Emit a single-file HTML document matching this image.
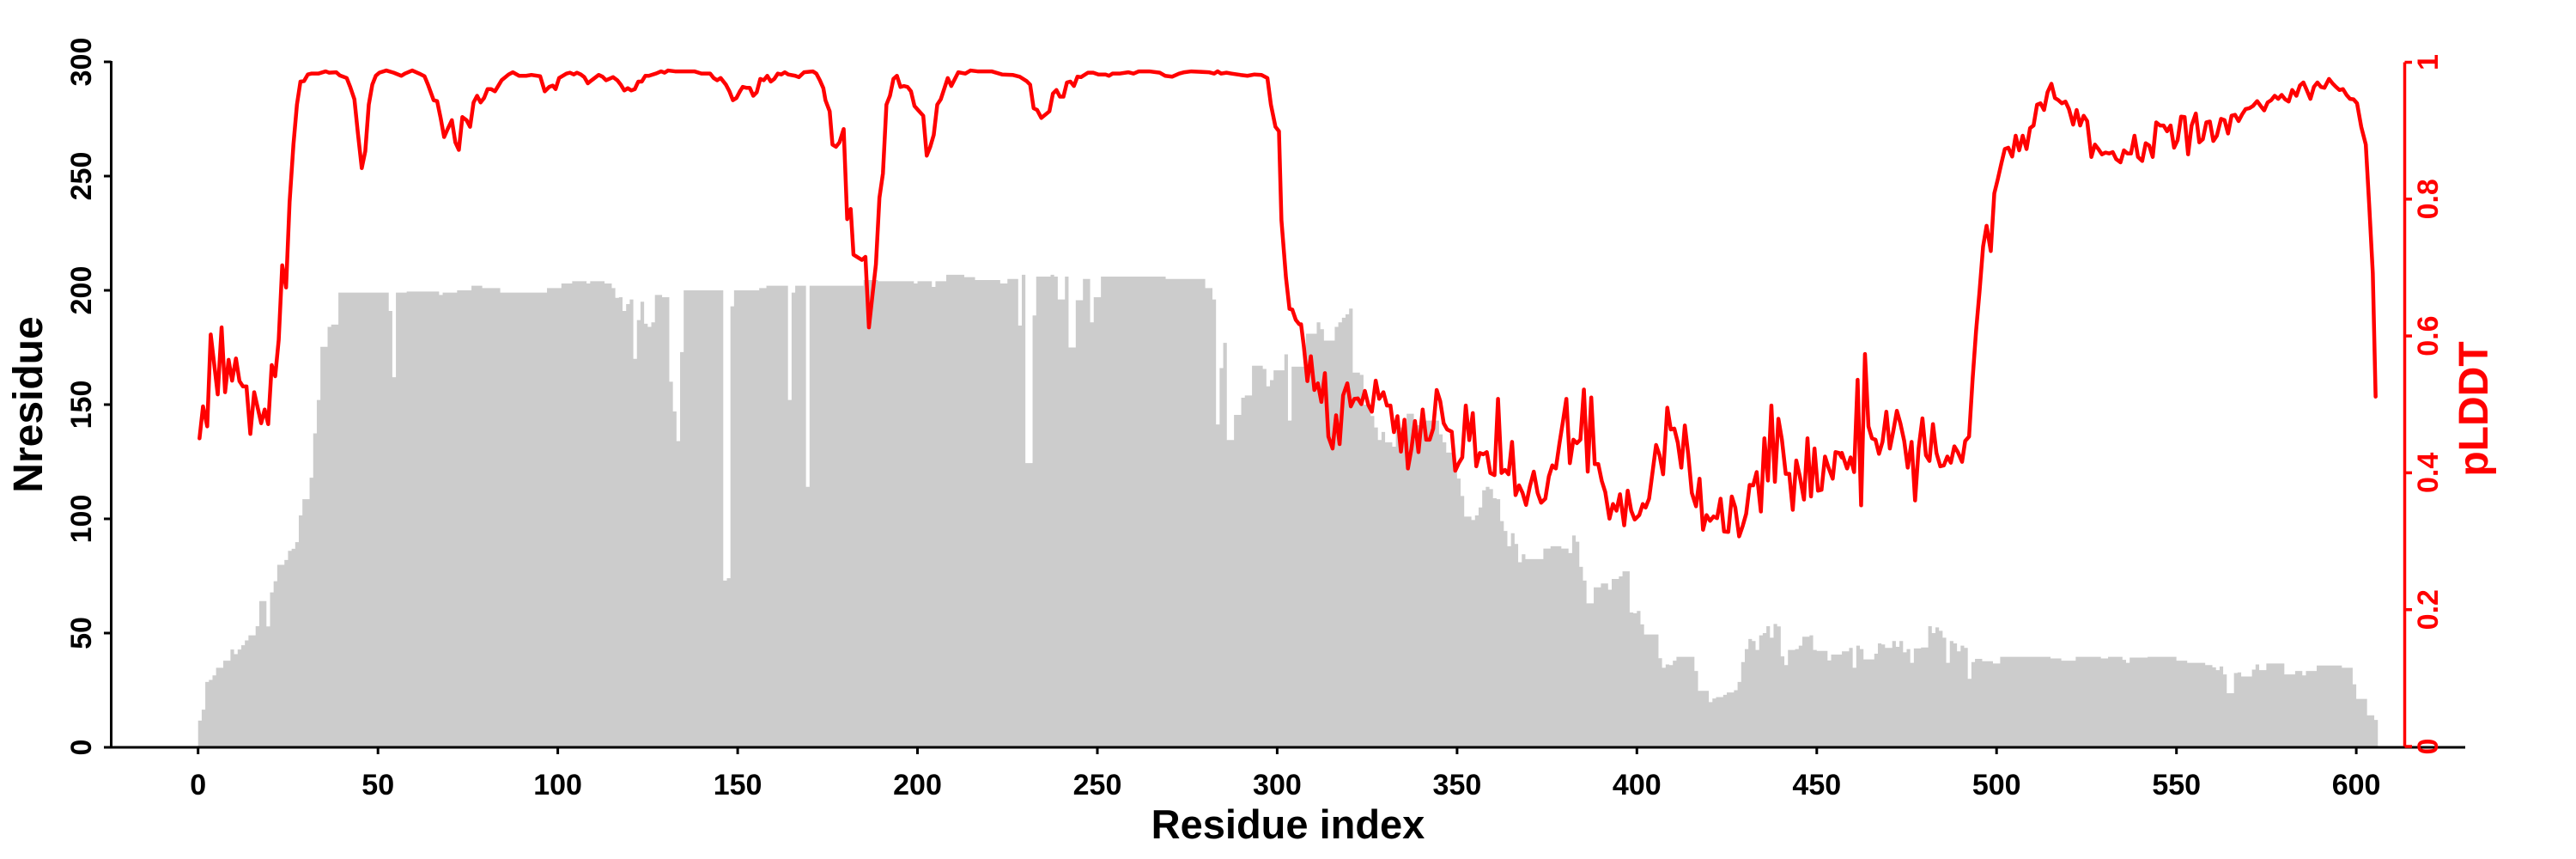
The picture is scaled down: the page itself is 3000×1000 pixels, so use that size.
<!DOCTYPE html>
<html>
<head>
<meta charset="utf-8">
<style>
html,body{margin:0;padding:0;background:#fff;}
body{width:3000px;height:1000px;overflow:hidden;}
svg{display:block;}
text{font-family:"Liberation Sans",Arial,Helvetica,sans-serif;font-weight:bold;}
</style>
</head>
<body>
<svg width="3000" height="1000" viewBox="0 0 3000 1000" xmlns="http://www.w3.org/2000/svg">
<rect x="0" y="0" width="3000" height="1000" fill="#ffffff"/>

<!-- Bars (residue / value coordinates) -->
<g transform="translate(230.7,870) scale(4.189,-2.66)">
<path fill="#cccccc" stroke="none" d="M0 0V11.7H1V16.5H2V28.6H3V29.5H4V31.5H5V34.8H7V37.9H9V42.8H10V40.8H11V42.8H12V44.7H13V46.8H14V49H16V53H17V64H19V52.9H20V67.8H21V72.7H22V79.9H24V82H25V86H26V86.9H27V89.8H28V101.5H29V108.6H31V118H32V137.4H33V152H34V175.3H36V184H37V185H39V199H53V191H54V162H55V199H58V199.5H67V198H68V199H72V200H76V202H79V201H84V199H97V201H101V203H104V204H108V203H109V204H113V203H115V201H116V196.7H117V197H118V191H119V194H120V196H121V170H122V187H123V195H124V185.4H125V184H126V186H127V198H129V197H131V160H132V147H133V134H134V173H135V200H146V73H147V74H148V193H149V200H156V201H158V202H164V152H165V199H166V202H169V114H170V202H185V204.5H189V204H199V203H200V204H204V201.5H205V204H208V206.8H213V205.8H216V204.5H223V203H225V205H228V184.6H229V206.8H230V124.4H232V189H233V206H237V206.8H238V206H239V196H241V206H242V175H244V195.7H246V205H248V186H249V197H251V206H269V205H280V201H282V196H283V141.3H284V166H285V177H286V134.5H288V145.5H290V153H291V154H293V167H296V165.6H297V158H298V160.7H299V165H302V172H303V143H304V166.6H308V181H311V186H312V183H313V178H316V184H317V186H318V188H319V189.5H320V192H321V164H323V163H324V150H326V145H327V140H328V134.5H329V138H330V133.5H332V131.6H333V140H336V146H338V141H341V143H345V137H346V133.5H347V129H349V123H350V117.6H351V110H352V101H354V99.5H355V101.5H356V105H357V112.5H358V114H359V113H360V109H361V108.6H362V99H363V94.7H364V88H365V93.7H366V89H367V81H368V84.5H369V82.4H374V87H376V88H379V87H381V85H382V92.7H383V90H384V79H385V73H386V63H388V70H390V71.7H392V69H393V73.7H395V74.8H396V77H398V59H399V58.7H400V59.7H401V53.8H402V49.4H406V39H407V34.8H408V36.3H409V36H410V37.9H411V39.6H416V33.4H417V24.7H420V19.8H421V21.4H422V22H424V23H425V24H427V25H428V28.6H429V37.3H430V43H431V47.4H432V46.5H433V42.6H434V49H435V50H436V53H437V48H438V54H439V52.9H440V39.8H441V36H442V42.6H444V43H445V44.5H446V48.4H448V49H449V42.6H450V42.2H453V38H454V40.6H457V42H459V43.5H460V34.8H461V44.5H462V43H463V38.5H466V41H467V45.5H468V45H469V43.5H471V46.5H472V44H473V46.5H474V41.6H475V43H476V37H477V43.3H479V43.7H481V53H482V50H483V52.5H484V51H485V48H486V37H487V46.5H488V45.5H489V42H490V44.5H491V43.5H492V30H493V37.3H494V38.7H496V37.7H499V36.7H501V39.6H515V38.9H518V37.9H522V39.6H529V38.9H531V39.6H535V38.3H536V37H537V39.3H542V39.6H550V37.9H553V37H558V36H560V35H561V33.8H562V35.4H563V31.9H564V23.7H566V32.5H567V32.8H568V31H571V34H572V36.3H573V33.8H575V36.7H580V31.9H583V33.4H585V31.5H586V33.4H589V35.8H596V34.8H599V27.6H600V21.2H603V14H605V12H606V0Z"/>
</g>

<!-- pLDDT line -->
<g fill="none" stroke="#ff0000" stroke-width="4.5" stroke-linejoin="round" stroke-linecap="round">
<g transform="translate(225,65) scale(0.40816,0.51658)">
<polyline vector-effect="non-scaling-stroke" points="18,862 28,790 40,835 50,628 70,763 81,612 91,758 101,685 111,732 122,682 132,733 142,745 152,745 163,852 174,758 194,828 204,797 214,830 224,697 234,722 244,640 254,472 265,522 275,330 286,200 296,110 306,58 316,57 327,42 337,40 357,40 378,35 388,38 408,37 418,44 438,50 448,70 460,98 470,175 481,253 491,215 501,110 511,65 521,45 531,38 551,33 572,38 594,45 604,40 625,33 645,40 660,46 670,65 686,100 696,102 706,140 716,183 726,165 738,145 748,195 758,212 768,138 780,145 790,160 800,105 810,90 820,105 830,95 840,75 850,75 861,80 880,55 900,42 912,37 930,45 950,45 965,43 990,46 1003,80 1016,70 1026,67 1034,75 1044,50 1065,40 1075,38 1086,42 1095,38 1106,42 1116,48 1126,62 1137,55 1157,43 1168,47 1178,55 1198,48 1210,55 1220,65 1230,78 1240,73 1250,78 1260,75 1270,58 1280,58 1290,45 1300,45 1320,40 1335,35 1345,38 1355,33 1375,35 1400,35 1430,35 1450,40 1475,40 1485,50 1495,55 1505,50 1520,65 1530,80 1540,100 1550,95 1560,80"/>
</g>
<g transform="translate(865,65) scale(0.40816,0.51658)">
<polyline vector-effect="non-scaling-stroke" points="0,70 10,72 20,72 30,90 40,82 50,52 60,55 70,45 80,58 90,52 100,40 110,42 120,37 130,42 150,45 160,48 175,37 200,35 210,40 220,55 230,73 236,100 248,125 256,200 266,205 276,195 288,165 298,368 308,345 316,448 330,455 340,460 350,453 360,612 370,540 380,470 390,320 400,265 410,110 420,90 430,52 440,45 450,70 460,68 470,70 480,80 490,113 500,122 515,135 525,225 535,205 545,178 555,110 565,98 585,50 595,68 615,37 635,40 650,33 670,35 710,35 740,42 770,43 790,47 810,57 820,65 830,118 840,122 852,140 875,125 885,85 895,77 905,92 915,92 925,60 935,58 945,68 955,47 965,48 985,38 1000,38 1015,42 1035,42 1045,45 1055,40 1075,40 1100,37 1115,40 1130,35 1160,35 1190,38 1205,45 1225,47 1245,40 1260,37 1280,35 1330,37 1345,40 1355,35 1365,40 1380,38 1395,40 1420,43 1440,45 1460,42 1480,43 1497,50 1507,110 1520,160 1530,170 1537,370 1550,500 1560,570"/>
</g>
<g transform="translate(1505,65) scale(0.40816,0.51658)">
<polyline vector-effect="non-scaling-stroke" points="0,572 10,595 20,605 25,605 33,655 43,733 53,677 63,753 73,738 83,780 93,715 103,858 115,885 125,810 135,875 145,765 157,738 167,790 177,773 187,772 197,785 207,755 217,787 227,802 238,732 248,773 260,758 270,788 280,788 290,848 300,812 310,892 320,820 330,930 340,885 350,823 360,893 372,797 382,865 392,865 402,840 412,753 422,778 432,828 442,842 455,847 465,935 475,918 485,905 495,788 505,866 515,805 525,925 535,895 545,898 555,893 565,940 577,945 587,773 597,940 607,933 617,943 627,870 637,990 647,968 657,985 667,1012 678,970 689,937 700,985 710,1007 722,998 732,948 742,923 752,930 762,875 772,825 782,773 792,918 802,865 812,873 822,865 832,752 843,937 853,770 863,920 873,920 883,958 893,983 905,1043 915,1010 925,1025 935,988 947,1058 957,980 967,1025 977,1045 990,1035 1000,1010 1008,1018 1018,998 1038,877 1048,900 1058,943 1070,793 1080,842 1090,840 1100,872 1110,928 1120,833 1130,900 1140,985 1152,1015 1162,953 1172,1068 1182,1035 1192,1048 1202,1038 1212,1042 1222,998 1232,1072 1244,1073 1254,993 1264,1018 1275,1083 1285,1060 1295,1032 1305,967 1315,968 1325,938 1337,1027 1347,862 1357,957 1367,788 1377,960 1387,818 1397,865 1408,942 1418,942 1428,1023 1438,912 1448,947 1460,1000 1470,862 1480,993 1490,885 1500,980 1510,978 1520,903 1530,928 1542,953 1550,893 1560,895 1568,905"/>
</g>
<g transform="translate(2145,65) scale(0.40816,0.51658)">
<polyline vector-effect="non-scaling-stroke" points="0,895 15,930 25,905 35,938 45,730 55,1013 66,672 76,835 86,862 96,865 106,897 116,870 127,802 137,885 147,845 157,800 167,828 178,868 188,928 199,870 209,1002 219,885 230,817 240,900 250,913 260,830 270,895 281,925 291,923 301,903 311,917 321,880 331,893 343,915 352,868 363,858 373,730 383,620 393,530 403,430 413,383 425,440 435,310 445,278 455,243 465,210 475,207 486,227 496,180 506,213 516,180 527,210 537,163 547,157 557,110 567,107 577,122 587,82 598,63 608,95 618,100 628,107 638,103 648,120 660,155 670,122 680,157 690,135 700,147 712,228 722,200 732,210 742,222 752,218 763,220 773,217 783,233 795,240 805,213 815,220 825,220 835,180 845,228 857,237 867,197 877,202 887,228 897,150 908,157 918,157 928,170 938,157 948,207 958,190 968,137 978,138 988,222 998,157 1010,130 1020,195 1030,188 1040,150 1050,148 1060,192 1070,180 1082,142 1092,145 1102,175 1112,135 1122,133 1132,147 1142,132 1152,120 1163,118 1173,113 1185,102 1195,113 1205,123 1215,105 1225,100 1235,90 1245,97 1255,88 1265,98 1275,103 1285,77 1297,90 1307,67 1317,60 1327,78 1337,97 1347,70 1357,60 1367,70 1377,72 1390,52 1400,62 1410,70 1420,77 1430,75 1440,88 1450,97 1460,98 1470,107 1482,160 1495,200 1505,340 1515,490 1523,768"/>
</g>
<line x1="861.7" y1="106.3" x2="865" y2="101.2"/>
<line x1="1501.7" y1="359.4" x2="1505" y2="360.5"/>
<line x1="2145" y1="532.5" x2="2145" y2="527.3"/>
</g>

<!-- Left axis -->
<g stroke="#000" stroke-width="3" fill="none">
<line x1="129.5" y1="71" x2="129.5" y2="871.5"/>
<line x1="128" y1="870" x2="2871" y2="870"/>
<line x1="121" y1="870" x2="129.5" y2="870"/>
<line x1="121" y1="737" x2="129.5" y2="737"/>
<line x1="121" y1="604" x2="129.5" y2="604"/>
<line x1="121" y1="471" x2="129.5" y2="471"/>
<line x1="121" y1="338" x2="129.5" y2="338"/>
<line x1="121" y1="205" x2="129.5" y2="205"/>
<line x1="121" y1="72" x2="129.5" y2="72"/>
<!-- bottom ticks -->
<line x1="230.7" y1="870" x2="230.7" y2="878"/>
<line x1="440.2" y1="870" x2="440.2" y2="878"/>
<line x1="649.6" y1="870" x2="649.6" y2="878"/>
<line x1="859.1" y1="870" x2="859.1" y2="878"/>
<line x1="1068.5" y1="870" x2="1068.5" y2="878"/>
<line x1="1278" y1="870" x2="1278" y2="878"/>
<line x1="1487.4" y1="870" x2="1487.4" y2="878"/>
<line x1="1696.9" y1="870" x2="1696.9" y2="878"/>
<line x1="1906.3" y1="870" x2="1906.3" y2="878"/>
<line x1="2115.8" y1="870" x2="2115.8" y2="878"/>
<line x1="2325.2" y1="870" x2="2325.2" y2="878"/>
<line x1="2534.7" y1="870" x2="2534.7" y2="878"/>
<line x1="2744.1" y1="870" x2="2744.1" y2="878"/>
</g>

<!-- Left tick labels -->
<g font-size="34" fill="#000" text-anchor="middle">
<text transform="translate(106,870) rotate(-90)">0</text>
<text transform="translate(106,737) rotate(-90)">50</text>
<text transform="translate(106,604) rotate(-90)">100</text>
<text transform="translate(106,471) rotate(-90)">150</text>
<text transform="translate(106,338) rotate(-90)">200</text>
<text transform="translate(106,205) rotate(-90)">250</text>
<text transform="translate(106,72) rotate(-90)">300</text>
</g>

<!-- Bottom tick labels -->
<g font-size="34" fill="#000" text-anchor="middle">
<text x="230.7" y="925">0</text>
<text x="440.2" y="925">50</text>
<text x="649.6" y="925">100</text>
<text x="859.1" y="925">150</text>
<text x="1068.5" y="925">200</text>
<text x="1278" y="925">250</text>
<text x="1487.4" y="925">300</text>
<text x="1696.9" y="925">350</text>
<text x="1906.3" y="925">400</text>
<text x="2115.8" y="925">450</text>
<text x="2325.2" y="925">500</text>
<text x="2534.7" y="925">550</text>
<text x="2744.1" y="925">600</text>
</g>

<!-- Axis titles -->
<text x="1500" y="976" font-size="47" text-anchor="middle" fill="#000">Residue index</text>
<text transform="translate(49,471) rotate(-90)" font-size="48" text-anchor="middle" fill="#000">Nresidue</text>

<!-- Right red axis -->
<g stroke="#ff0000" stroke-width="3.5" fill="none">
<line x1="2800.5" y1="72.5" x2="2800.5" y2="869"/>
<line x1="2800.5" y1="869" x2="2809" y2="869"/>
<line x1="2800.5" y1="709.7" x2="2809" y2="709.7"/>
<line x1="2800.5" y1="550.4" x2="2809" y2="550.4"/>
<line x1="2800.5" y1="391.1" x2="2809" y2="391.1"/>
<line x1="2800.5" y1="231.8" x2="2809" y2="231.8"/>
<line x1="2800.5" y1="72.5" x2="2809" y2="72.5"/>
</g>
<g font-size="34" fill="#ff0000" text-anchor="middle">
<text transform="translate(2839,869) rotate(-90)">0</text>
<text transform="translate(2839,709.7) rotate(-90)">0.2</text>
<text transform="translate(2839,550.4) rotate(-90)">0.4</text>
<text transform="translate(2839,391.1) rotate(-90)">0.6</text>
<text transform="translate(2839,231.8) rotate(-90)">0.8</text>
<text transform="translate(2839,72.5) rotate(-90)">1</text>
</g>
<text transform="translate(2897,476) rotate(-90)" font-size="48" text-anchor="middle" fill="#ff0000">pLDDT</text>
</svg>
</body>
</html>
